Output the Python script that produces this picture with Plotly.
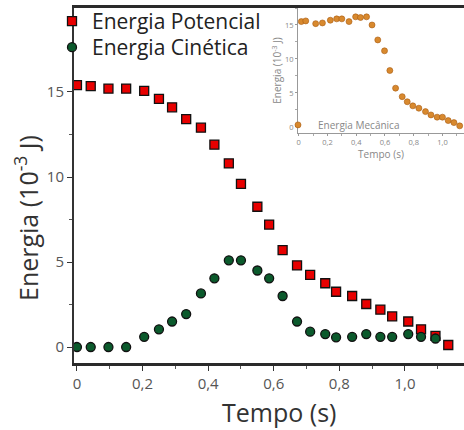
import plotly.graph_objects as go

# ---- data ----
tempo = [0.0, 0.042, 0.096, 0.15, 0.205, 0.25, 0.29, 0.333, 0.378, 0.419, 0.463, 0.5,
         0.55, 0.586, 0.627, 0.671, 0.711, 0.757, 0.79, 0.839, 0.882, 0.925, 0.961,
         1.01, 1.049, 1.093, 1.132]
potencial = [15.4, 15.35, 15.2, 15.2, 15.06, 14.6, 14.1, 13.4, 12.9, 11.9, 10.8, 9.6,
             8.25, 7.2, 5.7, 4.8, 4.24, 3.75, 3.25, 3.0, 2.53, 2.2, 1.8,
             1.5, 1.04, 0.65, 0.12]
tempo_cin = tempo[:26]
cinetica = [0.0, 0.0, 0.0, 0.0, 0.6, 1.04, 1.5, 1.94, 3.15, 4.04, 5.1, 5.1,
            4.5, 4.04, 3.0, 1.5, 0.9, 0.76, 0.57, 0.6, 0.76, 0.6, 0.6,
            0.76, 0.6, 0.5]

tempo_mec = [0.018, 0.049, 0.118, 0.165, 0.22, 0.264, 0.30, 0.35, 0.396, 0.43, 0.472,
             0.51, 0.55, 0.597, 0.634, 0.674, 0.72, 0.755, 0.794, 0.836, 0.882, 0.92,
             0.963, 1.0, 1.04, 1.08, 1.12]
mecanica = [15.5, 15.6, 15.2, 15.3, 15.7, 15.9, 15.9, 15.5, 16.2, 16.1, 16.2,
            15.0, 12.8, 11.2, 8.3, 5.7, 4.45, 3.7, 3.1, 2.75, 2.25, 1.76,
            1.43, 1.43, 0.93, 0.63, 0.15]

x_tickvals = [0, 0.2, 0.4, 0.6, 0.8, 1.0]
x_ticktext = ["0", "0,2", "0,4", "0,6", "0,8", "1,0"]
y_tickvals = [0, 5, 10, 15]
y_ticktext = ["0", "5", "10", "15"]

FONT = "Open Sans"
W, H = 464, 430
L, R, T, B = 74, 0, 8, 67
pw, ph = W - L - R, H - T - B

fig = go.Figure()

fig.add_trace(go.Scatter(
    x=tempo, y=potencial, mode="markers", name="Energia Potencial",
    marker=dict(symbol="square", size=9, color="#e80000",
                line=dict(color="#111111", width=1.3)),
))
fig.add_trace(go.Scatter(
    x=tempo_cin, y=cinetica, mode="markers", name="Energia Cinética",
    legend="legend3",
    marker=dict(symbol="circle", size=9, color="#0b5a2c",
                line=dict(color="#111111", width=1.3)),
))
fig.add_trace(go.Scatter(
    x=tempo_mec, y=mecanica, mode="markers", name="Energia Mecânica",
    xaxis="x2", yaxis="y2", legend="legend2",
    marker=dict(symbol="circle", size=6, color="#d8892e",
                line=dict(color="#a85a10", width=0.6)),
))

# inset domain in paper coords
ix0 = (298 - L) / pw
iy0 = (H - B - 133) / ph

leg_font = dict(size=21, color="#222222", family=FONT)

fig.update_layout(
    width=W, height=H,
    margin=dict(l=L, r=R, t=T, b=B),
    paper_bgcolor="white", plot_bgcolor="white",
    font=dict(family=FONT, color="#333333"),
    showlegend=True,
    xaxis=dict(
        range=[-0.009, 1.18], domain=[0, 1],
        tickvals=x_tickvals, ticktext=x_ticktext,
        showgrid=False, zeroline=False,
        showline=True, linecolor="#2a2a2a", linewidth=2.5, mirror=True,
        ticks="outside", ticklen=5, tickcolor="#333333", tickwidth=1,
        minor=dict(dtick=0.1, ticks="outside", ticklen=3, tickcolor="#555555"),
        tickfont=dict(size=15, color="#555555", family=FONT),
    ),
    yaxis=dict(
        range=[-0.94, 19.94], domain=[0, 1],
        tickvals=y_tickvals, ticktext=y_ticktext,
        showgrid=False, zeroline=False,
        showline=True, linecolor="#333333", linewidth=2,
        ticks="outside", ticklen=5, tickcolor="#333333", tickwidth=1,
        minor=dict(dtick=2.5, ticks="outside", ticklen=3, tickcolor="#555555"),
        tickfont=dict(size=15, color="#555555", family=FONT),
    ),
    xaxis2=dict(
        anchor="y2", domain=[ix0, 1], range=[-0.005, 1.15],
        tickvals=x_tickvals, ticktext=x_ticktext,
        showgrid=False, zeroline=False,
        showline=True, linecolor="#999999", linewidth=1,
        ticks="outside", ticklen=2, tickcolor="#999999",
        minor=dict(dtick=0.1, ticks="outside", ticklen=2, tickcolor="#aaaaaa"),
        tickfont=dict(size=7.5, color="#888888", family=FONT),
        title=dict(text="Tempo (s)", font=dict(size=10, color="#888888", family=FONT), standoff=3),
    ),
    yaxis2=dict(
        anchor="x2", domain=[iy0, 1], range=[-0.9, 17.5],
        tickvals=y_tickvals, ticktext=y_ticktext,
        showgrid=False, zeroline=False,
        showline=True, linecolor="#999999", linewidth=1,
        ticks="outside", ticklen=2, tickcolor="#999999",
        minor=dict(dtick=2.5, ticks="outside", ticklen=2, tickcolor="#aaaaaa"),
        tickfont=dict(size=7.5, color="#888888", family=FONT),
        title=dict(text="Energia (10<sup>-3</sup> J)", font=dict(size=10, color="#888888", family=FONT), standoff=1),
    ),
    legend=dict(
        x=(52 - L) / pw, y=1 + 7 / ph, xanchor="left", yanchor="top",
        bgcolor="rgba(0,0,0,0)", borderwidth=0,
        font=leg_font, itemwidth=30,
    ),
    legend3=dict(
        x=(52 - L) / pw, y=1 - 19 / ph, xanchor="left", yanchor="top",
        bgcolor="rgba(0,0,0,0)", borderwidth=0,
        font=leg_font, itemwidth=30,
    ),
    legend2=dict(
        x=(278 - L) / pw, y=iy0 - 0.018, xanchor="left", yanchor="bottom",
        bgcolor="rgba(0,0,0,0)", borderwidth=0,
        font=dict(size=10, color="#888888", family=FONT),
        itemwidth=30,
    ),
    annotations=[
        dict(text="Energia (10<sup>-3</sup> J)", textangle=-90,
             xref="paper", yref="paper",
             x=(26 - L) / pw, y=(H - B - 218) / ph,
             xanchor="center", yanchor="middle", showarrow=False,
             font=dict(size=25, color="#333333", family=FONT)),
        dict(text="Tempo (s)",
             xref="paper", yref="paper",
             x=(279 - L) / pw, y=-(412 - (H - B)) / ph,
             xanchor="center", yanchor="middle", showarrow=False,
             font=dict(size=25, color="#333333", family=FONT)),
    ],
)

fig.write_html("out.html")
